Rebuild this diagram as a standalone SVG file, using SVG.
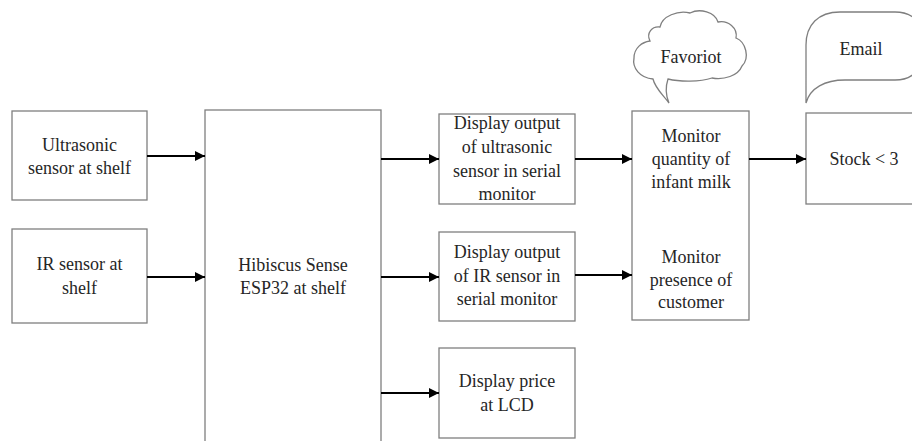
<svg xmlns="http://www.w3.org/2000/svg" width="912" height="441" viewBox="0 0 912 441">
<style>
.box{fill:#fff;stroke:#7f7f7f;stroke-width:1.3}
.t{font-size:18px;fill:#262626;text-anchor:middle}
.c{stroke:#000;stroke-width:2;fill:none}
</style>
<defs>
<marker id="ah" viewBox="0 0 10 10" refX="10" refY="5" markerWidth="12" markerHeight="10" markerUnits="userSpaceOnUse" orient="auto"><path d="M0,0 L10,5 L0,10 Z" fill="#000"/></marker>
</defs>
<rect width="912" height="441" fill="#fff"/>
<g font-family="Liberation Serif, DejaVu Serif, serif">
<g id="ultrasonic"><rect class="box" x="12" y="111" width="135" height="89"/><text class="t" x="79.5" y="151">Ultrasonic</text><text class="t" x="79.5" y="174">sensor at shelf</text></g>
<g id="ir"><rect class="box" x="12" y="229" width="135" height="94"/><text class="t" x="79.5" y="270">IR sensor at</text><text class="t" x="79.5" y="294">shelf</text></g>
<g id="esp32"><rect class="box" x="205" y="110" width="176" height="340"/><text class="t" x="293" y="271">Hibiscus Sense</text><text class="t" x="293" y="294">ESP32 at shelf</text></g>
<g id="disp-ultra"><rect class="box" x="439" y="114" width="136" height="90"/><text class="t" x="507" y="129">Display output</text><text class="t" x="507" y="153">of ultrasonic</text><text class="t" x="507" y="177">sensor in serial</text><text class="t" x="507" y="200">monitor</text></g>
<g id="disp-ir"><rect class="box" x="439" y="232" width="136" height="89"/><text class="t" x="507" y="258">Display output</text><text class="t" x="507" y="282">of IR sensor in</text><text class="t" x="507" y="305">serial monitor</text></g>
<g id="disp-lcd"><rect class="box" x="439" y="348" width="136" height="90"/><text class="t" x="507" y="387">Display price</text><text class="t" x="507" y="411">at LCD</text></g>
<g id="monitor"><rect class="box" x="632" y="111" width="117" height="209"/><text class="t" x="691" y="142">Monitor</text><text class="t" x="691" y="165">quantity of</text><text class="t" x="691" y="188">infant milk</text><text class="t" x="691" y="263">Monitor</text><text class="t" x="691" y="286">presence of</text><text class="t" x="691" y="308">customer</text></g>
<g id="stock"><rect class="box" x="806" y="113" width="120" height="91"/><text class="t" x="864" y="165">Stock &lt; 3</text></g>
<g id="favoriot"><path class="box" d="M669,103 C663,95 655,88 653,79 C640,78 632,68 634,58 C634,48 642,42 650,41 C646,33 652,26 660,27 C662,16 678,10 690,13 C700,8 715,12 718,22 C728,20 738,28 736,38 C746,42 750,58 742,66 C738,76 724,80 712,78 C700,82 680,82 668,79 C665,88 666,96 669,103 Z"/><text class="t" x="691" y="63">Favoriot</text></g>
<g id="email"><path class="box" d="M806,103 L806,45 C806,25 818,12 840,12 L895,12 C910,12 920,20 920,30 L920,60 C920,72 910,80 895,80 L845,80 C825,80 810,88 806,103 Z"/><text class="t" x="861" y="55">Email</text></g>
</g>
<g id="connectors">
<line class="c" x1="147" y1="156" x2="205" y2="156" marker-end="url(#ah)"/>
<line class="c" x1="147" y1="277" x2="205" y2="277" marker-end="url(#ah)"/>
<line class="c" x1="381" y1="159" x2="439" y2="159" marker-end="url(#ah)"/>
<line class="c" x1="381" y1="277" x2="439" y2="277" marker-end="url(#ah)"/>
<line class="c" x1="381" y1="393" x2="439" y2="393" marker-end="url(#ah)"/>
<line class="c" x1="575" y1="159" x2="632" y2="159" marker-end="url(#ah)"/>
<line class="c" x1="575" y1="275" x2="632" y2="275" marker-end="url(#ah)"/>
<line class="c" x1="749" y1="159" x2="806" y2="159" marker-end="url(#ah)"/>
</g>
</svg>
